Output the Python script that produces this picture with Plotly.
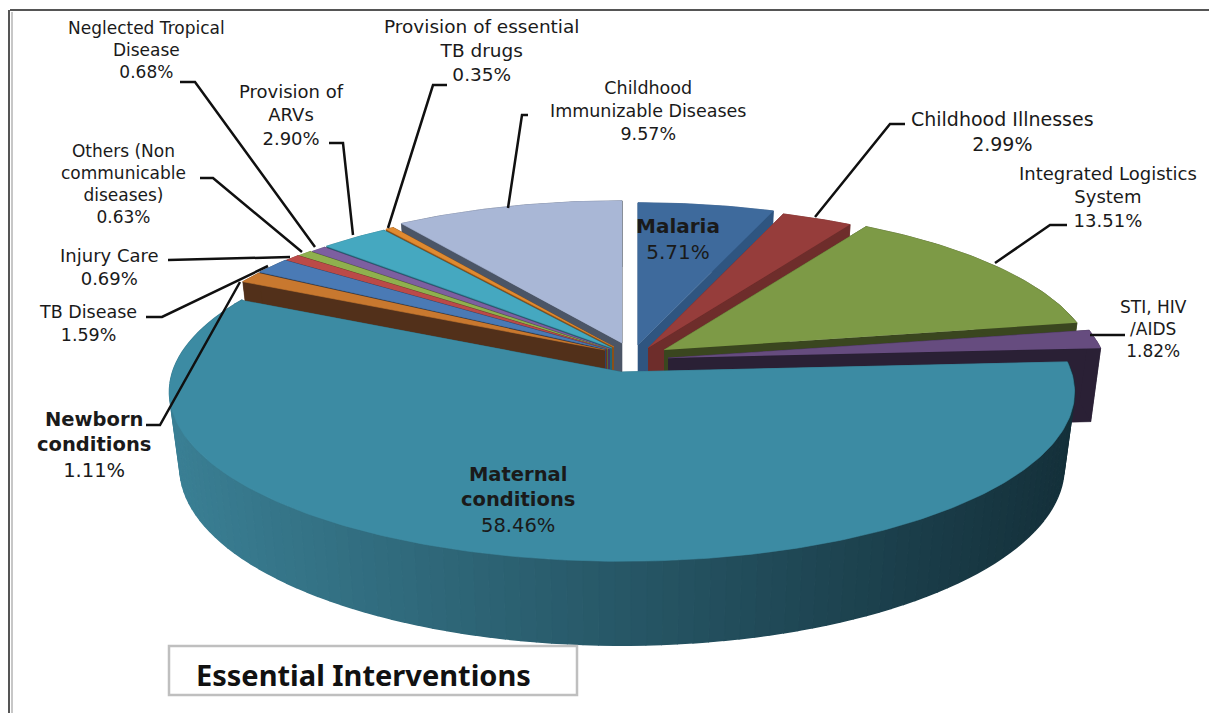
"""Essential Interventions: exploded 3D-look pie drawn as filled polygons."""

import numpy as np
import plotly.graph_objects as go

# Data, clockwise from twelve o'clock
labels = [
    "Malaria", "Childhood Illnesses", "Integrated Logistics<br>System", "STI, HIV<br>/AIDS",
    "Maternal<br>conditions", "Newborn<br>conditions", "TB Disease", "Injury Care",
    "Others (Non<br>communicable<br>diseases)", "Neglected Tropical<br>Disease",
    "Provision of<br>ARVs", "Provision of essential<br>TB drugs", "Childhood<br>Immunizable Diseases",
]
values = [5.71, 2.99, 13.51, 1.82, 58.46, 1.11, 1.59, 0.69, 0.63, 0.68, 2.90, 0.35, 9.57]
chart_title = "Essential Interventions"

# Styling per slice
top_colors = ["#3e6a9c", "#963d3b", "#7d9a46", "#664c7f", "#3c8ba3", "#c8782f", "#4a7ab5",
              "#bb4a48", "#8fb04e", "#7d5fa0", "#45a8c0", "#e08a30", "#a9b7d6"]
side_colors = ["#2f5580", "#6e2d2b", "#3a461f", "#2a2035", "#2f6d80", "#52301a", "#2a4566",
               "#6e2d2b", "#556a2c", "#463560", "#236575", "#8a5018", "#4b5566"]
# Where each slice's tip sits once pulled out, and its radius factor
tips = [(638, 345), (648, 348), (664, 350), (668, 358), (622, 372), (605, 350), (606, 349),
        (607, 349), (608, 349), (610, 349), (612, 348), (614, 347), (622, 343)]
radius_scale = [1, 1, 1, 1.02, 1.05, 1, 1, 1, 1, 1, 1, 1, 1]
paint_order = [0, 1, 2, 3, 12, 11, 10, 9, 8, 7, 6, 5, 4]

RX, RY, PERSPECTIVE, DEPTH = 428, 159, 0.118, 74
WALL_TAPER = 0.023  # walls lean inward going down

# One entry per label: centre x, centre y, font size, bold name
label_layout = [
    (678, 239, 20, True), (1002, 131, 19, False), (1108, 197, 18, False), (1153, 329, 17, False),
    (518, 500, 19.5, True), (94, 445, 19.5, True), (88, 323, 17.5, False),
    (109, 267, 18, False), (123, 184, 17, False), (146, 50, 17, False),
    (291, 115, 18, False), (482, 50, 18.5, False), (648, 111, 17.5, False),
]

# Leader lines from label to slice
leaders = [
    [(180, 82), (195, 82), (315, 247)], [(329, 143), (343, 143), (353, 235)],
    [(447, 85), (433, 85), (388, 228)], [(200, 178), (213, 178), (302, 252)],
    [(168, 260), (290, 257)], [(146, 317), (162, 317), (268, 266)],
    [(146, 425), (160, 425), (240, 282)], [(528, 115), (522, 115), (508, 208)],
    [(905, 124), (890, 124), (815, 217)], [(1067, 225), (1050, 225), (995, 263)],
    [(1090, 335), (1125, 335)],
]


def project(theta, tip, scale=1.0, drop=0.0):
    """Map a pie angle to pixels on the tilted disc, far side shrunk by perspective."""
    u, v = np.sin(theta), np.cos(theta)
    s = 1 / (1 + PERSPECTIVE * v)
    lean = 1 - WALL_TAPER * drop / DEPTH
    return tip[0] + RX * scale * lean * u * s, tip[1] - RY * scale * v * s + drop * s


def polygon(fig, xs, ys, color, width=0.6):
    fig.add_trace(go.Scatter(
        x=list(xs), y=list(ys), mode="lines", fill="toself", fillcolor=color,
        line=dict(color=color, width=width), hoverinfo="skip", showlegend=False,
    ))


def mix(c1, c2, t):
    a = [int(c1[i:i + 2], 16) for i in (1, 3, 5)]
    b = [int(c2[i:i + 2], 16) for i in (1, 3, 5)]
    return "rgb({},{},{})".format(*[round(p + (q - p) * t) for p, q in zip(a, b)])


fig = go.Figure()

edges = np.radians(np.concatenate([[0], np.cumsum(values)]) / sum(values) * 360)

for i in paint_order:
    tip, scale = tips[i], radius_scale[i]
    theta = np.linspace(edges[i], edges[i + 1], max(6, int(values[i] * 4)))
    x_top, y_top = project(theta, tip, scale)
    x_low, y_low = project(theta, tip, scale, DEPTH)

    # radial walls
    polygon(fig, [tip[0], x_top[0], x_low[0], tip[0]],
            [tip[1], y_top[0], y_low[0], tip[1] + DEPTH], side_colors[i])
    polygon(fig, [tip[0], x_top[-1], x_low[-1], tip[0]],
            [tip[1], y_top[-1], y_low[-1], tip[1] + DEPTH], side_colors[i])

    # outer wall, shaded across the big slice
    if i == 4:
        for j in range(0, len(theta) - 2, 2):
            t = (x_top[j] - x_top.min()) / (x_top.max() - x_top.min())
            polygon(fig, x_top[j:j + 3].tolist() + x_low[j:j + 3][::-1].tolist(),
                    y_top[j:j + 3].tolist() + y_low[j:j + 3][::-1].tolist(),
                    mix("#3a7f94", "#14303a", t), width=1.5)
    else:
        polygon(fig, np.concatenate([x_top, x_low[::-1]]),
                np.concatenate([y_top, y_low[::-1]]), side_colors[i])

    polygon(fig, np.concatenate([[tip[0]], x_top]), np.concatenate([[tip[1]], y_top]), top_colors[i])

shapes = [
    # chart frame
    dict(type="line", x0=10, x1=1209, y0=10, y1=10, line=dict(color="#555555", width=2)),
    dict(type="line", x0=9, x1=9, y0=10, y1=713, line=dict(color="#555555", width=2)),
    dict(type="line", x0=12, x1=12, y0=12, y1=713, line=dict(color="#b5b5b5", width=1.5)),
    # title box
    dict(type="rect", x0=169, x1=577, y0=646, y1=695, line=dict(color="#bfbfbf", width=2.5)),
]
for pts in leaders:
    path = "M " + " L ".join(f"{x},{y}" for x, y in pts)
    shapes.append(dict(type="path", path=path, line=dict(color="#101010", width=2.5)))

annotations = []
for i, text in enumerate(labels):
    cx, cy, size, bold = label_layout[i]
    name = f"<b>{text}</b>" if bold else text
    annotations.append(dict(
        x=cx, y=cy, text=f"{name}<br>{values[i]:.2f}%", showarrow=False, align="center",
        font=dict(family="DejaVu Sans", size=size, color="#1a1a1a"),
    ))
annotations.append(dict(
    x=194, y=674, xanchor="left", text=f"<b>{chart_title}</b>", showarrow=False,
    font=dict(family="Noto Sans", size=29, color="#111111"),
))

fig.update_layout(
    width=1209, height=713, margin=dict(l=0, r=0, t=0, b=0),
    paper_bgcolor="white", plot_bgcolor="white", showlegend=False,
    xaxis=dict(range=[0, 1209], visible=False),
    yaxis=dict(range=[713, 0], visible=False),
    shapes=shapes, annotations=annotations,
)

fig.write_html("out.html", config=dict(displayModeBar=False),
               post_script="document.body.style.margin='0';")
